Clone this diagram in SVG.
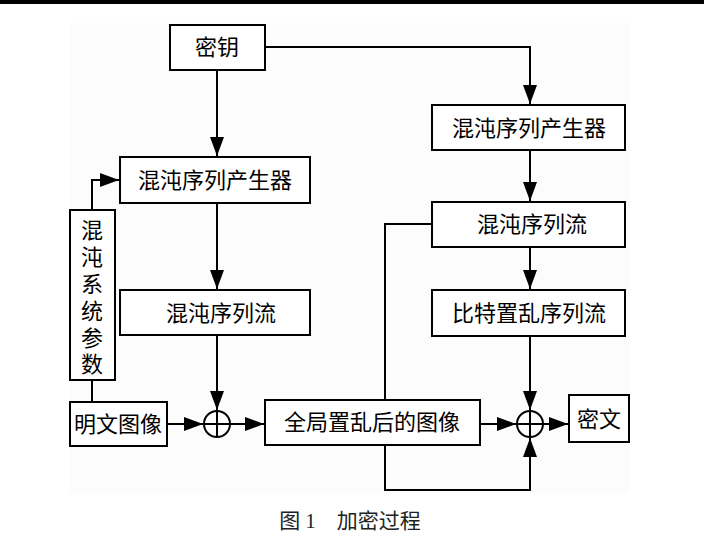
<svg xmlns="http://www.w3.org/2000/svg" width="704" height="554" viewBox="0 0 704 554">
<style>
.box{fill:#fff;stroke:#000;stroke-width:2}
.t{font-family:"Liberation Serif","Noto Sans CJK SC",serif;font-size:22px;fill:#000;text-anchor:middle;dominant-baseline:central}
.ln{fill:none;stroke:#000;stroke-width:2}
.xor{fill:#fff;stroke:#000;stroke-width:2}
</style>
<defs>
<marker id="ah" markerUnits="userSpaceOnUse" markerWidth="20" markerHeight="14" refX="19" refY="7" orient="auto">
<path d="M0,0 L19,7 L0,14 z" fill="#000"/>
</marker>
</defs>
<rect x="0" y="0" width="704" height="554" fill="#fff"/>
<rect x="0" y="0" width="704" height="4" fill="#000"/>
<rect x="70" y="23" width="560" height="470" fill="#fcfcfc"/>
<g id="connectors">
<path class="ln" d="M265,47 H530 V104" marker-end="url(#ah)"/>
<path class="ln" d="M217,70 V156" marker-end="url(#ah)"/>
<path class="ln" d="M217,203 V289" marker-end="url(#ah)"/>
<path class="ln" d="M92,210 V180 H119" marker-end="url(#ah)"/>
<path class="ln" d="M92,380 V402"/>
<path class="ln" d="M217,335 V410" marker-end="url(#ah)"/>
<path class="ln" d="M167,424 H203" marker-end="url(#ah)"/>
<path class="ln" d="M230,424 H264" marker-end="url(#ah)"/>
<path class="ln" d="M530,150 V201" marker-end="url(#ah)"/>
<path class="ln" d="M530,247 V289" marker-end="url(#ah)"/>
<path class="ln" d="M432,224 H385 V400"/>
<path class="ln" d="M530,336 V410" marker-end="url(#ah)"/>
<path class="ln" d="M480,424 H516" marker-end="url(#ah)"/>
<path class="ln" d="M543,424 H568" marker-end="url(#ah)"/>
<path class="ln" d="M385,445 V490 H530 V438" marker-end="url(#ah)"/>
</g>
<g id="key"><rect class="box" x="170" y="25" width="95" height="45"/><text class="t" x="217" y="47">密钥</text></g>
<g id="gen-left"><rect class="box" x="120" y="157" width="190" height="46"/><text class="t" x="215" y="180">混沌序列产生器</text></g>
<g id="stream-left"><rect class="box" x="120" y="290" width="190" height="45"/><text class="t" x="221" y="313">混沌序列流</text></g>
<g id="params"><rect class="box" x="70" y="210" width="45" height="170"/>
<text class="t" x="92" y="230">混</text><text class="t" x="92" y="257">沌</text><text class="t" x="92" y="284">系</text><text class="t" x="92" y="311">统</text><text class="t" x="92" y="338">参</text><text class="t" x="92" y="364">数</text></g>
<g id="plain"><rect class="box" x="70" y="402" width="97" height="44"/><text class="t" x="118" y="424">明文图像</text></g>
<g id="xor-left"><circle class="xor" cx="217" cy="424" r="13"/><path class="ln" d="M204,424 H230 M217,411 V437"/></g>
<g id="scrambled"><rect class="box" x="265" y="400" width="215" height="45"/><text class="t" x="372" y="422">全局置乱后的图像</text></g>
<g id="gen-right"><rect class="box" x="432" y="105" width="193" height="45"/><text class="t" x="529" y="128">混沌序列产生器</text></g>
<g id="stream-right"><rect class="box" x="432" y="202" width="193" height="45"/><text class="t" x="532" y="224">混沌序列流</text></g>
<g id="bitstream"><rect class="box" x="432" y="290" width="193" height="46"/><text class="t" x="529" y="313">比特置乱序列流</text></g>
<g id="xor-right"><circle class="xor" cx="530" cy="424" r="13"/><path class="ln" d="M517,424 H543 M530,411 V437"/></g>
<g id="cipher"><rect class="box" x="569" y="395" width="60" height="47"/><text class="t" x="599" y="419">密文</text></g>
<text class="t" x="350" y="521" style="fill:#222;font-size:21px">图 1　加密过程</text>
</svg>
